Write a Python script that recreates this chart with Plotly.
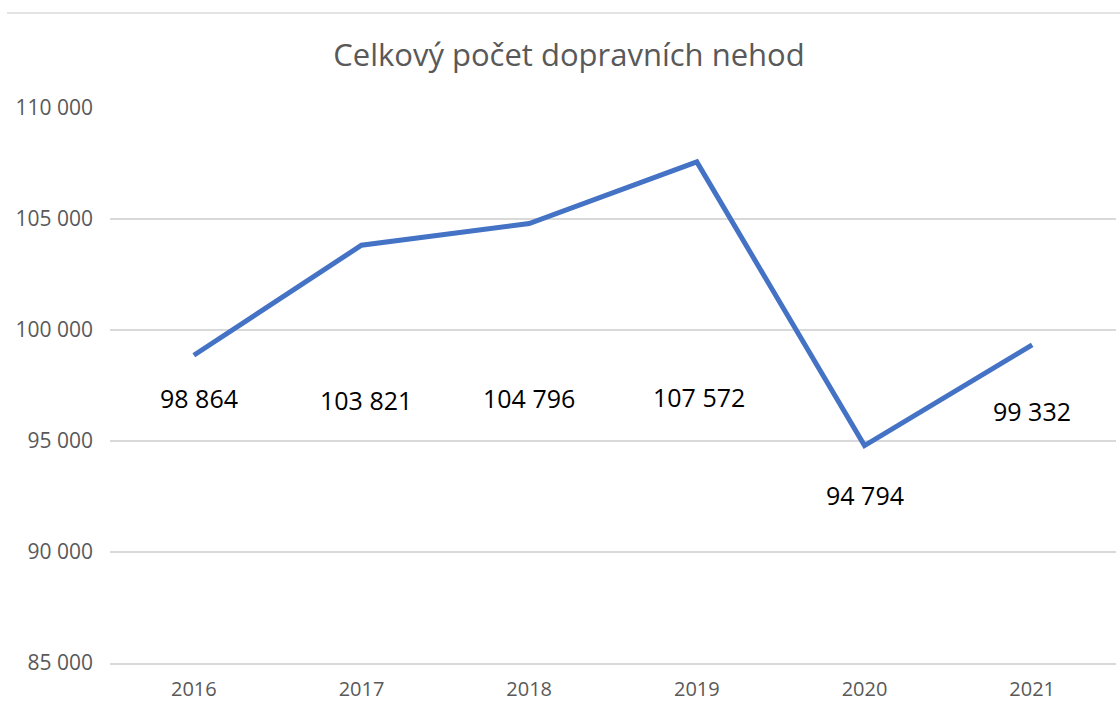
import plotly.graph_objects as go

years = ["2016", "2017", "2018", "2019", "2020", "2021"]
accidents = [98864, 103821, 104796, 107572, 94794, 99332]
y_ticks = [85000, 90000, 95000, 100000, 105000, 110000]

# label placement offsets (pixels) relative to each point
label_xshift = [5, 4, 0, 2, 0, 0]
label_yshift = [-43, -155, -174, -235, -49, -66]

FONT = "Open Sans, Liberation Sans, sans-serif"
GRID = "#d9d9d9"
GRAY = "#595959"

fig = go.Figure()
fig.add_trace(go.Scatter(
    x=years, y=accidents, mode="lines",
    line=dict(color="#4472C4", width=5),
    showlegend=False, hoverinfo="skip",
))

annotations = []
for i, (v, dx, dy) in enumerate(zip(accidents, label_xshift, label_yshift)):
    annotations.append(dict(
        x=i, y=v, xref="x", yref="y",
        text=f"{v:,}".replace(",", " "),
        showarrow=False, xshift=dx, yshift=dy,
        font=dict(family=FONT, size=25, color="#000000"),
        xanchor="center", yanchor="middle",
    ))

shapes = [dict(type="line", xref="paper", yref="paper",
               x0=-0.1024, x1=1.01, y0=1.1712, y1=1.1712,
               line=dict(color="#e3e3e3", width=2))]

fig.update_layout(
    width=1120, height=702,
    margin=dict(l=110, r=4, t=108, b=39, autoexpand=False),
    paper_bgcolor="white", plot_bgcolor="white",
    separators=", ",
    annotations=annotations,
    shapes=shapes,
    title=dict(text="Celkový počet dopravních nehod",
               x=0.508, xref="container", xanchor="center",
               y=1 - 55 / 702, yref="container", yanchor="middle",
               font=dict(family=FONT, size=31, color=GRAY)),
    xaxis=dict(type="category", range=[-0.5, 5.5], automargin=False,
               showgrid=False, showline=True, linecolor=GRID, linewidth=2,
               ticks="", tickfont=dict(family=FONT, size=20, color=GRAY),
               ticklabelstandoff=7),
    yaxis=dict(range=[85000, 110000], tickvals=y_ticks, tickformat=",d",
               automargin=False,
               showgrid=True, gridcolor=GRID, gridwidth=2,
               zeroline=False, showline=False, ticks="",
               tickfont=dict(family=FONT, size=21, color=GRAY),
               ticklabelstandoff=16),
)

fig.write_html(
    "out.html",
    config={"displayModeBar": False},
    post_script="document.body.style.margin='0px';document.body.style.padding='0px';document.body.style.overflow='hidden';",
)
